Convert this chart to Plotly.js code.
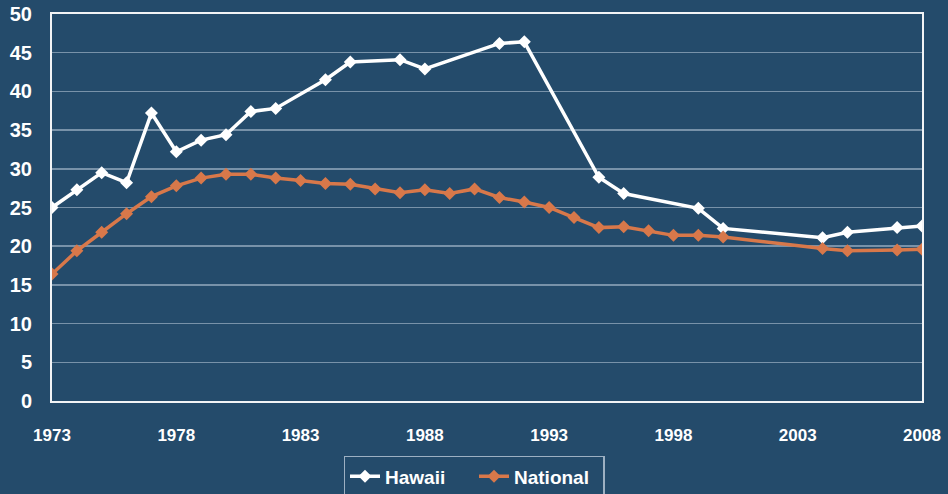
<!DOCTYPE html>
<html>
<head>
<meta charset="utf-8">
<script src="https://cdn.plot.ly/plotly-3.0.1.min.js"></script>
<style>html,body{margin:0;padding:0;background:#244B6B;}#chart{width:948px;height:494px;}</style>
</head>
<body>
<div id="chart"></div>
<script>
const hawaiiYears = [1973,1974,1975,1976,1977,1978,1979,1980,1981,1982,1984,1985,1987,1988,1991,1992,1995,1996,1999,2000,2004,2005,2007,2008];
const hawaiiValues = [25.0,27.3,29.5,28.2,37.2,32.2,33.7,34.4,37.4,37.8,41.5,43.8,44.1,42.9,46.2,46.4,28.9,26.8,24.9,22.3,21.1,21.8,22.4,22.6];
const nationalYears = [1973,1974,1975,1976,1977,1978,1979,1980,1981,1982,1983,1984,1985,1986,1987,1988,1989,1990,1991,1992,1993,1994,1995,1996,1997,1998,1999,2000,2004,2005,2007,2008];
const nationalValues = [16.4,19.4,21.8,24.2,26.4,27.8,28.8,29.3,29.3,28.8,28.5,28.1,28.0,27.4,26.9,27.3,26.8,27.4,26.3,25.7,25.0,23.7,22.4,22.5,22.0,21.4,21.4,21.2,19.7,19.4,19.5,19.6];
const xTicks = [1973,1978,1983,1988,1993,1998,2003,2008];
const yTicks = [0,5,10,15,20,25,30,35,40,45,50];

const traces = [
  {x: hawaiiYears, y: hawaiiValues, name: 'Hawaii', type: 'scatter', mode: 'lines+markers',
   line: {color: '#FFFFFF', width: 3.5}, marker: {symbol: 'diamond', size: 10, color: '#FFFFFF'}},
  {x: nationalYears, y: nationalValues, name: 'National', type: 'scatter', mode: 'lines+markers',
   line: {color: '#D8784A', width: 3.5}, marker: {symbol: 'diamond', size: 10, color: '#D8784A'}}
];

const layout = {
  width: 948, height: 494,
  paper_bgcolor: '#244B6B', plot_bgcolor: '#244B6B',
  margin: {l: 52, r: 26, t: 14, b: 93},
  font: {family: 'Arial, "Liberation Sans", sans-serif', color: '#FFFFFF'},
  showlegend: true,
  legend: {orientation: 'h', x: 0.5, xanchor: 'center', xref: 'container', yref: 'container', y: 0.077, yanchor: 'top',
    bgcolor: 'rgba(0,0,0,0)', bordercolor: '#9DB0C2', borderwidth: 1.5,
    font: {size: 19, color: '#FFFFFF', family: 'Arial, "Liberation Sans", sans-serif', weight: 'bold'},
    itemwidth: 30, entrywidth: 84, tracegroupgap: 0},
  xaxis: {range: [1973, 2008], tickvals: xTicks, ticktext: xTicks.map(String),
    showgrid: false, zeroline: false, showline: true, mirror: true, linecolor: '#F2F4F6', linewidth: 2,
    ticks: '', tickfont: {size: 17, color: '#FFFFFF', weight: 'bold'}, ticklabelstandoff: 18, automargin: false},
  yaxis: {range: [0, 50], tickvals: yTicks, ticktext: yTicks.map(String),
    showgrid: true, gridcolor: 'rgba(190,205,220,0.55)', gridwidth: 1.5, zeroline: false,
    showline: true, mirror: true, linecolor: '#F2F4F6', linewidth: 2,
    ticks: '', tickfont: {size: 20, color: '#FFFFFF', weight: 'bold'}, ticklabelstandoff: 14, automargin: false}
};

Plotly.newPlot('chart', traces, layout, {displayModeBar: false, staticPlot: true});
</script>
</body>
</html>
